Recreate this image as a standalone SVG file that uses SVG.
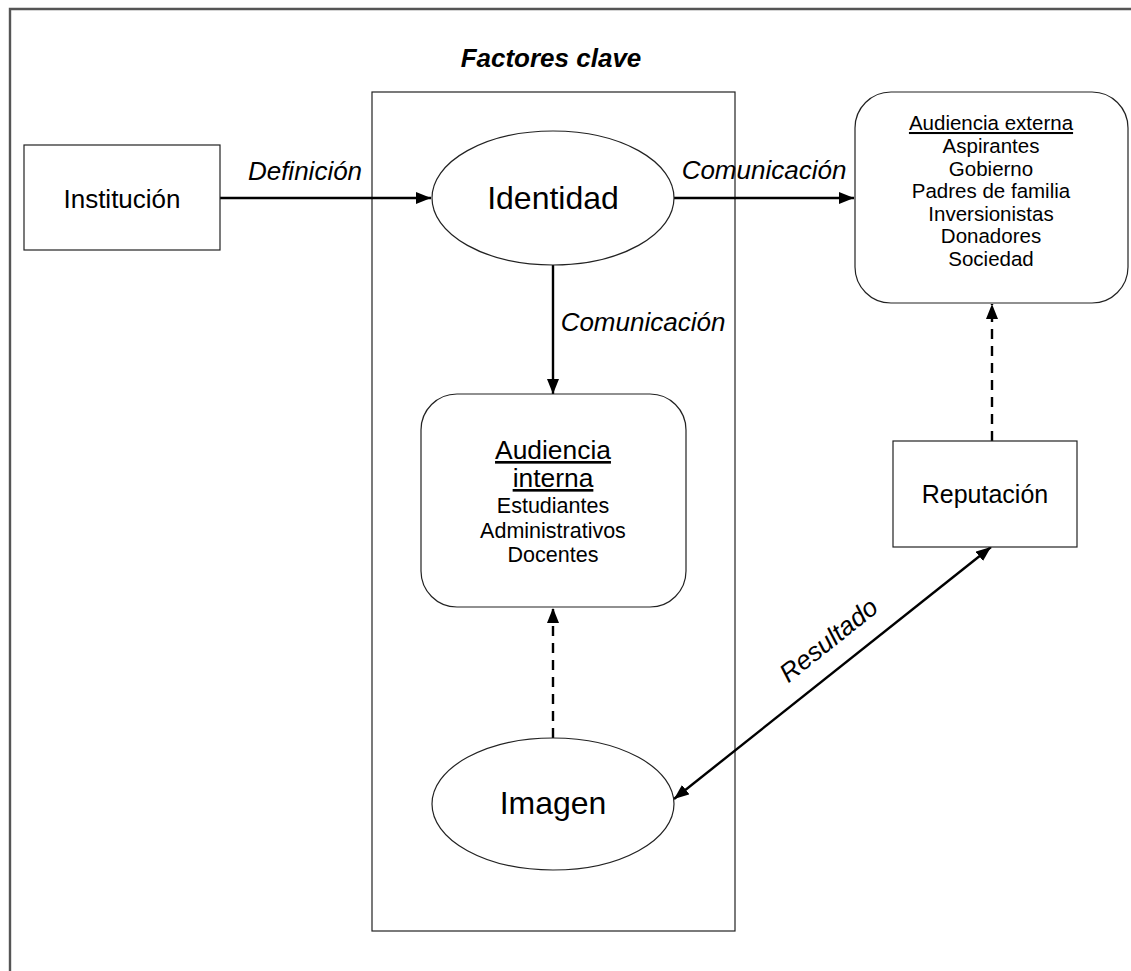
<svg xmlns="http://www.w3.org/2000/svg" width="1131" height="971" viewBox="0 0 1131 971">
<defs>
<marker id="ah" viewBox="0 0 15 12" refX="15" refY="6" markerWidth="15" markerHeight="12" markerUnits="userSpaceOnUse" orient="auto-start-reverse">
<path d="M0,0 L15,6 L0,12 Z" fill="#000"/>
</marker>
<style>
.box{fill:#fff;stroke:#222;stroke-width:1.2}
.t{font-family:"Liberation Sans",Arial,sans-serif;fill:#000;text-anchor:middle}
.it{font-style:italic}
.conn{stroke:#000;stroke-width:2.4;fill:none}
.dash{stroke-dasharray:10,7}
.ext{font-size:20.5px}
</style>
</defs>
<rect width="1131" height="971" fill="#fff"/>
<path d="M10,971 L10,9 L1131,9" fill="none" stroke="#555" stroke-width="2.4"/>

<g id="factores">
<rect class="box" x="372" y="92" width="363" height="839" fill="none"/>
<text class="t it" x="551" y="67" font-size="26" font-weight="bold">Factores clave</text>
</g>

<g id="connectors">
<line class="conn" x1="220" y1="198" x2="431" y2="198" marker-end="url(#ah)"/>
<text class="t it" x="305" y="180" font-size="26">Definición</text>
<line class="conn" x1="674" y1="198" x2="854" y2="198" marker-end="url(#ah)"/>
<text class="t it" x="764" y="179" font-size="26">Comunicación</text>
<line class="conn" x1="553" y1="265" x2="553" y2="394" marker-end="url(#ah)"/>
<text class="t it" x="643" y="331" font-size="26">Comunicación</text>
<line class="conn dash" x1="553" y1="738" x2="553" y2="608" marker-end="url(#ah)"/>
<line class="conn dash" x1="992" y1="441" x2="992" y2="304" marker-end="url(#ah)"/>
<line class="conn" x1="674" y1="799" x2="991" y2="547" marker-start="url(#ah)" marker-end="url(#ah)"/>
<text class="t it" x="834" y="647" font-size="26" transform="rotate(-38.5 834 647)">Resultado</text>
</g>

<g id="institucion">
<rect class="box" x="24" y="145" width="196" height="105"/>
<text class="t" x="122" y="208" font-size="26">Institución</text>
</g>

<g id="identidad">
<ellipse class="box" cx="553" cy="198" rx="121" ry="67"/>
<text class="t" x="553" y="209" font-size="32">Identidad</text>
</g>

<g id="audiencia-externa">
<rect class="box" x="855" y="92" width="273" height="211" rx="36" ry="36"/>
<text class="t ext" x="991" y="130" text-decoration="underline">Audiencia externa</text>
<text class="t ext" x="991" y="153">Aspirantes</text>
<text class="t ext" x="991" y="175.5">Gobierno</text>
<text class="t ext" x="991" y="198">Padres de familia</text>
<text class="t ext" x="991" y="220.5">Inversionistas</text>
<text class="t ext" x="991" y="243">Donadores</text>
<text class="t ext" x="991" y="265.5">Sociedad</text>
</g>

<g id="audiencia-interna">
<rect class="box" x="421" y="394" width="265" height="213" rx="36" ry="36"/>
<text class="t" x="553" y="459" font-size="26.4" text-decoration="underline">Audiencia</text>
<text class="t" x="553" y="487" font-size="26.4" text-decoration="underline">interna</text>
<text class="t" x="553" y="513" font-size="21.5">Estudiantes</text>
<text class="t" x="553" y="538" font-size="21.5">Administrativos</text>
<text class="t" x="553" y="562" font-size="21.5">Docentes</text>
</g>

<g id="reputacion">
<rect class="box" x="893" y="441" width="184" height="106"/>
<text class="t" x="985" y="503" font-size="25">Reputación</text>
</g>

<g id="imagen">
<ellipse class="box" cx="553" cy="804" rx="121" ry="66"/>
<text class="t" x="553" y="814" font-size="32">Imagen</text>
</g>
</svg>
